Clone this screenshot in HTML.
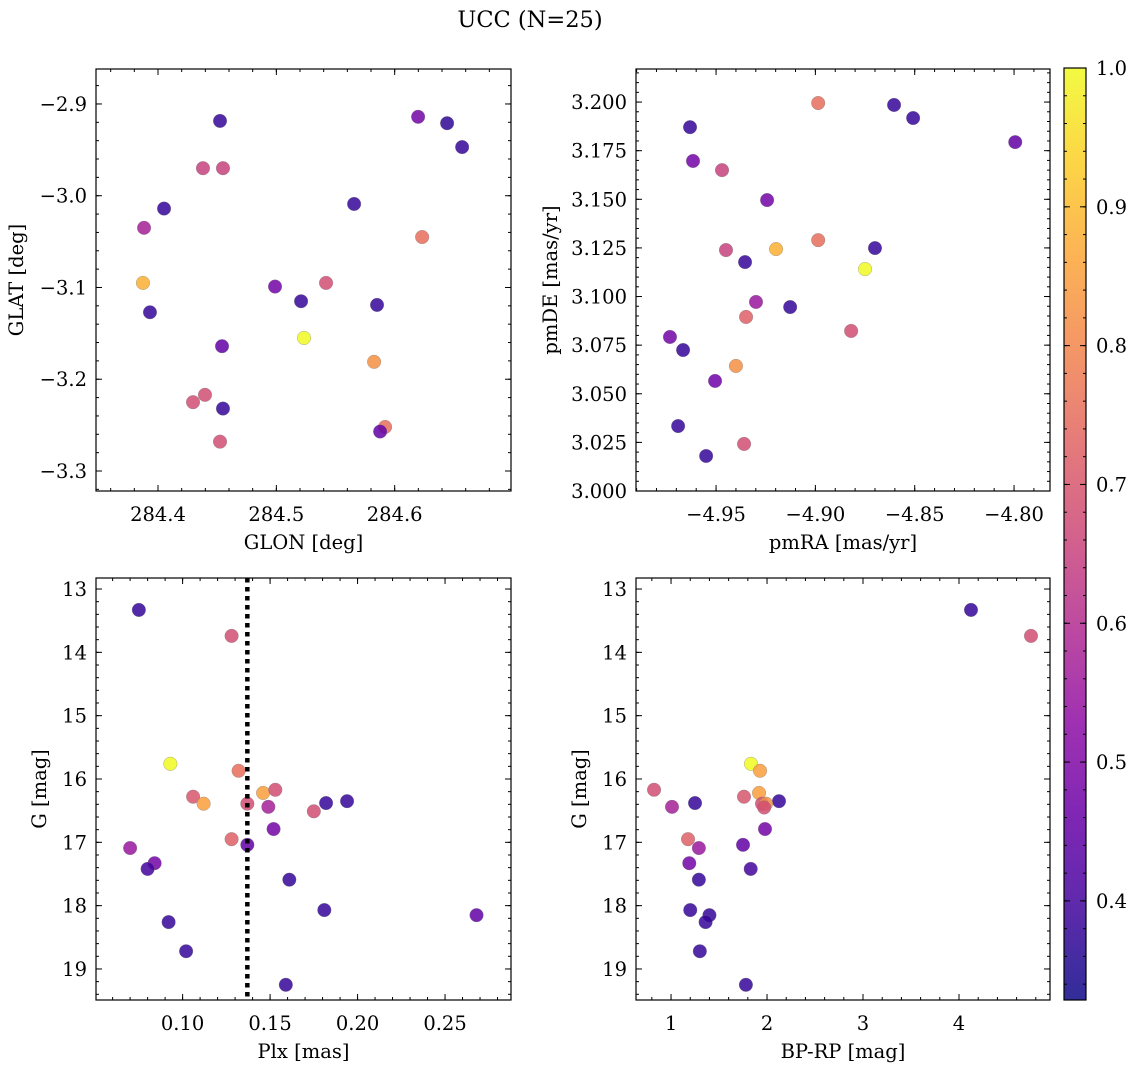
<!DOCTYPE html>
<html><head><meta charset="utf-8"><style>
html,body{margin:0;padding:0;background:#fff;}
svg{display:block;font-family:"DejaVu Serif","Liberation Serif",serif;}
</style></head><body>
<svg id="fig" width="1136" height="1068" viewBox="0 0 1136 1068" xmlns="http://www.w3.org/2000/svg">
<text x="530" y="27" font-size="22.5" text-anchor="middle">UCC (N=25)</text>
</svg>
<script>
// ---- data ----
const p1X=[284.4524,284.6198,284.6443,284.657,284.438,284.4549,284.4051,284.5657,284.3882,284.6232,284.3873,284.4989,284.542,284.3932,284.5209,284.5851,284.5234,284.4541,284.5826,284.4397,284.4296,284.4549,284.4524,284.5919,284.5877];
const p1Y=[-2.9185,-2.914,-2.921,-2.947,-2.970,-2.970,-3.014,-3.009,-3.035,-3.045,-3.095,-3.099,-3.095,-3.127,-3.115,-3.119,-3.155,-3.164,-3.181,-3.217,-3.225,-3.232,-3.268,-3.252,-3.257];
const p1C=[0.38,0.48,0.37,0.38,0.65,0.65,0.38,0.38,0.57,0.75,0.88,0.48,0.68,0.38,0.38,0.38,1.0,0.45,0.82,0.68,0.68,0.38,0.68,0.75,0.45];
const p2X=[-4.8986,-4.8604,-4.8508,-4.9631,-4.7994,-4.9616,-4.947,-4.9243,-4.8986,-4.9198,-4.945,-4.870,-4.9354,-4.875,-4.9299,-4.9127,-4.9349,-4.9732,-4.882,-4.9666,-4.940,-4.9505,-4.9691,-4.9359,-4.955];
const p2Y=[3.1995,3.1985,3.1918,3.1871,3.1794,3.1697,3.165,3.1496,3.129,3.1244,3.1239,3.1249,3.1177,3.1141,3.0972,3.0946,3.0895,3.0792,3.0823,3.0725,3.0643,3.0566,3.0334,3.0242,3.018];
const p2C=[0.75,0.38,0.38,0.38,0.45,0.48,0.65,0.48,0.75,0.88,0.65,0.38,0.38,1.0,0.55,0.38,0.72,0.48,0.68,0.38,0.82,0.47,0.38,0.68,0.38];
const p3X=[0.075,0.128,0.093,0.132,0.106,0.112,0.146,0.153,0.137,0.149,0.182,0.194,0.175,0.152,0.128,0.137,0.070,0.084,0.080,0.161,0.092,0.181,0.268,0.102,0.159];
const p3Y=[13.33,13.74,15.76,15.87,16.28,16.39,16.22,16.17,16.39,16.44,16.38,16.35,16.51,16.79,16.95,17.04,17.09,17.33,17.42,17.59,18.26,18.07,18.15,18.72,19.25];
const p3C=[0.38,0.68,1.0,0.75,0.70,0.85,0.85,0.68,0.68,0.57,0.38,0.38,0.68,0.48,0.72,0.45,0.55,0.48,0.40,0.38,0.38,0.38,0.45,0.38,0.38];
const p4X=[4.125,4.75,1.833,1.927,1.917,1.76,0.823,1.01,1.25,2.125,1.948,1.99,1.97,1.177,1.979,1.75,1.29,1.19,1.83,1.29,1.20,1.40,1.36,1.30,1.78];
const p4Y=[13.33,13.74,15.76,15.87,16.22,16.28,16.17,16.44,16.38,16.35,16.39,16.39,16.45,16.95,16.79,17.04,17.09,17.33,17.42,17.59,18.07,18.15,18.26,18.72,19.25];
const p4C=[0.38,0.68,1.0,0.85,0.85,0.70,0.68,0.57,0.38,0.38,0.68,0.82,0.68,0.72,0.48,0.45,0.55,0.48,0.40,0.38,0.38,0.38,0.38,0.38,0.38];
const plxLine=[0.137];
const cbTicks=[0.4,0.5,0.6,0.7,0.8,0.9,1.0];
const VMIN=0.3286, VMAX=1.0;

const FS=19.5;
const NS="http://www.w3.org/2000/svg";
const svg=document.getElementById('fig');
const stops=["#0d0887","#41049d","#6a00a8","#8f0da4","#b12a90","#cc4778","#e16462","#f2844b","#fca636","#fcce25","#f0f921"];
function hex(h){return [parseInt(h.substr(1,2),16),parseInt(h.substr(3,2),16),parseInt(h.substr(5,2),16)];}
function cmap(v){let t=(v-VMIN)/(VMAX-VMIN);t=Math.max(0,Math.min(1,t));const f=t*10,i=Math.min(9,Math.floor(f)),r=f-i;const a=hex(stops[i]),b=hex(stops[i+1]);return 'rgb('+a.map((x,k)=>Math.round(x+(b[k]-x)*r)).join(',')+')';}
function mk(tag,attrs,parent){const e=document.createElementNS(NS,tag);for(const k in attrs)e.setAttribute(k,attrs[k]);(parent||svg).appendChild(e);return e;}
function fmt(v,d){return (v<0?'\u2212':'')+Math.abs(v).toFixed(d);}

function panel(o){
  const g=mk('g',{});
  
  
  const sx=v=>o.x0+(v-o.xmin)/(o.xmax-o.xmin)*(o.x1-o.x0);
  const sy=v=>o.inv? o.y0+(v-o.ymin)/(o.ymax-o.ymin)*(o.y1-o.y0) : o.y1-(v-o.ymin)/(o.ymax-o.ymin)*(o.y1-o.y0);
  const tg=mk('g',{stroke:'#000','stroke-width':1},g);
  function ticksX(step,len,labels,dec){
    const s=Math.ceil(o.xmin/step-1e-9);
    for(let k=s;k*step<=o.xmax+1e-9;k++){const v=k*step,x=sx(v);
      mk('line',{x1:x,x2:x,y1:o.y1,y2:o.y1-len},tg);mk('line',{x1:x,x2:x,y1:o.y0,y2:o.y0+len},tg);
      if(labels){const t=mk('text',{x:x,y:o.y1+30,'font-size':FS,'text-anchor':'middle',stroke:'none'},g);t.textContent=fmt(v,dec);
        
        }}
  }
  function ticksY(step,len,labels,dec){
    const s=Math.ceil(o.ymin/step-1e-9);
    for(let k=s;k*step<=o.ymax+1e-9;k++){const v=k*step,y=sy(v);
      mk('line',{x1:o.x0,x2:o.x0+len,y1:y,y2:y},tg);mk('line',{x1:o.x1,x2:o.x1-len,y1:y,y2:y},tg);
      if(labels){const t=mk('text',{x:o.x0-9,y:y+7,'font-size':FS,'text-anchor':'end',stroke:'none'},g);t.textContent=fmt(v,dec);
        
        }}
  }
  ticksX(o.xmaj,6,true,o.xdec);ticksX(o.xmaj/5,3,false);
  ticksY(o.ymaj,6,true,o.ydec);ticksY(o.ymaj/5,3,false);
  for(let i=0;i<o.X.length;i++){
    const c=mk('circle',{cx:sx(o.X[i]),cy:sy(o.Y[i]),r:6.8,fill:cmap(o.C[i]),'fill-opacity':0.85,stroke:'#777','stroke-width':0.5,'stroke-opacity':0.6},g);
    
    
  }
  if(o.vline){o.vline.forEach(v=>{
    const lg=mk('g',{fill:'#000'},g);
    
    
    const x=sx(v);
    for(let y=o.y0;y<o.y1;y+=9){mk('rect',{x:x-2.25,y:y,width:4.5,height:Math.min(4.5,o.y1-y)},lg);}
  });}
  const fr=mk('rect',{x:o.x0,y:o.y0,width:o.x1-o.x0,height:o.y1-o.y0,fill:'none',stroke:'#000','stroke-width':1.2},g);
  
  
  const xl=mk('text',{x:(o.x0+o.x1)/2,y:o.y1+58,'font-size':FS,'text-anchor':'middle'},g);xl.textContent=o.xlabel;
  
  
  const yx=o.x0-o.ylo, yy=(o.y0+o.y1)/2;
  const yl=mk('text',{x:yx,y:yy,'font-size':FS,'text-anchor':'middle',transform:'rotate(-90 '+yx+' '+yy+')'},g);yl.textContent=o.ylabel;
  
  
}

panel({name:'glon-glat-panel',x0:96,x1:511,y0:69,y1:491,xmin:284.3476,xmax:284.6983,ymin:-3.3218,ymax:-2.8619,xmaj:0.1,ymaj:0.1,xdec:1,ydec:1,X:p1X,Y:p1Y,C:p1C,xlabel:'GLON [deg]',ylabel:'GLAT [deg]',ylo:73});
panel({name:'pm-panel',x0:636,x1:1050,y0:69,y1:491,xmin:-4.9903,xmax:-4.7819,ymin:3.0,ymax:3.217,xmaj:0.05,ymaj:0.025,xdec:2,ydec:3,X:p2X,Y:p2Y,C:p2C,xlabel:'pmRA [mas/yr]',ylabel:'pmDE [mas/yr]',ylo:79});
panel({name:'plx-g-panel',x0:96,x1:511,y0:578,y1:1000,xmin:0.0505,xmax:0.2877,ymin:12.826,ymax:19.49,inv:true,xmaj:0.05,ymaj:1,xdec:2,ydec:0,X:p3X,Y:p3Y,C:p3C,xlabel:'Plx [mas]',ylabel:'G [mag]',ylo:50,vline:plxLine});
panel({name:'cmd-panel',x0:636,x1:1050,y0:578,y1:1000,xmin:0.635,xmax:4.948,ymin:12.826,ymax:19.49,inv:true,xmaj:1,ymaj:1,xdec:0,ydec:0,X:p4X,Y:p4Y,C:p4C,xlabel:'BP-RP [mag]',ylabel:'G [mag]',ylo:50});

(function(){
  const x0=1064,x1=1086,y0=68,y1=1000;
  const cb=mk('g',{});
  
  
  const defs=mk('defs',{},cb);
  const lg=mk('linearGradient',{id:'cbg',x1:0,y1:1,x2:0,y2:0},defs);
  for(let i=0;i<=20;i++){const v=VMIN+(VMAX-VMIN)*i/20;mk('stop',{offset:(i/20),'stop-color':cmap(v),'stop-opacity':0.85},lg);}
  mk('rect',{x:x0,y:y0,width:x1-x0,height:y1-y0,fill:'url(#cbg)'},cb);
  const sy=v=>y1-(v-VMIN)/(VMAX-VMIN)*(y1-y0);
  for(let v=0.34;v<=1.0001;v+=0.02){const y=sy(v);mk('line',{x1:x1,x2:x1-3,y1:y,y2:y,stroke:'#000'},cb);mk('line',{x1:x0,x2:x0+3,y1:y,y2:y,stroke:'#000'},cb);}
  cbTicks.forEach(v=>{const y=sy(v);mk('line',{x1:x1,x2:x1-6,y1:y,y2:y,stroke:'#000'},cb);mk('line',{x1:x0,x2:x0+6,y1:y,y2:y,stroke:'#000'},cb);
    const t=mk('text',{x:x1+10,y:y+7,'font-size':FS},cb);t.textContent=v.toFixed(1);
    
    });
  mk('rect',{x:x0,y:y0,width:x1-x0,height:y1-y0,fill:'none',stroke:'#000','stroke-width':1.2},cb);
})();
</script>
</body></html>
